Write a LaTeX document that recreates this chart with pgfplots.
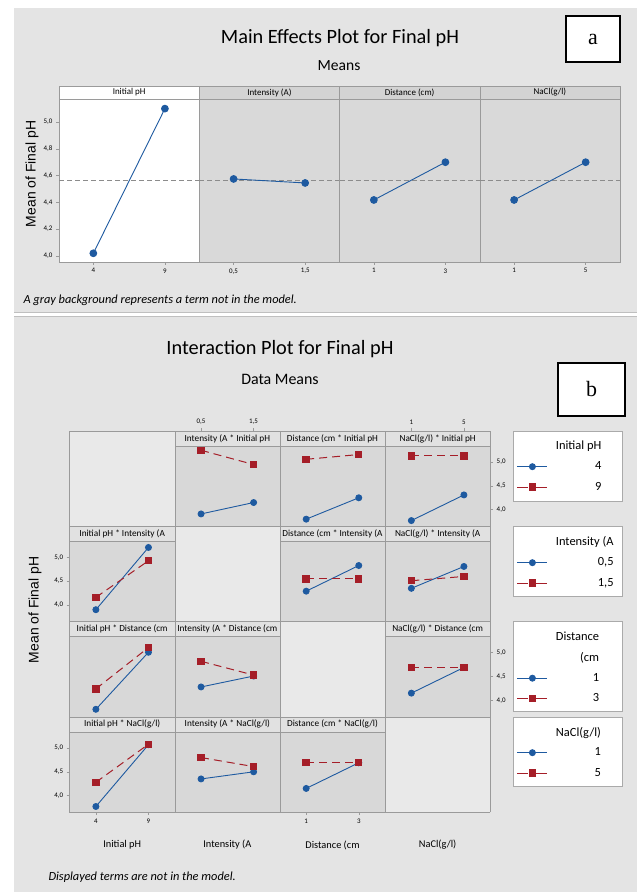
\documentclass[border=0pt]{standalone}
\usepackage{fontspec}
\setmainfont{Carlito}
\newfontfamily\lsans{Liberation Sans}
\newfontfamily\lserif{Liberation Serif}
\usepackage{pgfplots}
\pgfplotsset{compat=1.18}
\definecolor{bgc}{HTML}{E4E4E4}
\definecolor{megray}{HTML}{D9D9D9}
\definecolor{mestrip}{HTML}{D3D3D3}
\definecolor{framegray}{HTML}{9A9A9A}
\definecolor{cellgray}{HTML}{D8D8D8}
\definecolor{istripc}{HTML}{E1E1E1}
\definecolor{emptyc}{HTML}{E9E9E9}
\definecolor{mblue}{HTML}{1E5AA0}
\definecolor{mred}{HTML}{A51E28}
\definecolor{meanline}{HTML}{8C8C8C}
\definecolor{legframe}{HTML}{AAAAAA}
\newcommand\fs[1]{\fontsize{#1}{#1}\selectfont}
\newcommand\mstrip[2]{\draw[draw=framegray, fill=#2] (axis description cs:0,1) rectangle (axis description cs:1,1.0798);
  \node[font=\fs{9}] at (axis description cs:0.5,1.0399) {#1};}
\newcommand\istrip[1]{\draw[draw=framegray, fill=istripc] (axis description cs:0,1) rectangle (axis description cs:1,1.1868);
  \node[font=\fs{9.3}] at (axis description cs:0.5,1.0934) {#1};}
\pgfplotsset{
  base/.style={scale only axis, clip=false, tick align=outside, major tick length=3bp,
    axis line style={framegray}, tick style={framegray, line width=0.5bp},
    ticklabel style={font=\fs{7}}, /pgf/number format/assume math mode=true,
    yticklabel style={/pgf/number format/.cd, use comma, fixed, fixed zerofill, precision=1},
    legend image code/.code={\draw[mark repeat=2,mark phase=2,##1] plot coordinates {(0bp,0bp) (15bp,0bp) (30bp,0bp)};}},
  me/.style={base, width=140.25bp, height=163bp, xmin=-0.48, xmax=1.48, ymin=3.955, ymax=5.172,
    xtick={0,1}, ytick=\empty, xtick pos=left, xticklabel pos=left, axis background/.style={fill=megray}},
  ia/.style={base, width=105.15bp, height=80.3bp, xmin=-0.5, xmax=1.5, ymin=3.65, ymax=5.34,
    xtick=\empty, ytick=\empty, axis background/.style={fill=cellgray}},
  topx/.style={xtick={0,1}, xtick pos=right, xticklabel pos=right, x tick style={yshift=15bp}, xticklabel style={yshift=15bp}},
  botx/.style={xtick={0,1}, xtick pos=left, xticklabel pos=left},
  lefty/.style={ytick={4,4.5,5}, ytick pos=left, yticklabel pos=left},
  righty/.style={ytick={4,4.5,5}, ytick pos=right, yticklabel pos=right},
  mb/.style={mblue, line width=0.9bp, mark=*, mark size=3.4bp},
  mean/.style={meanline, line width=0.8bp, dash pattern=on 5bp off 3bp},
  bl/.style={mblue, line width=0.9bp, mark=*, mark size=3bp, mark options={solid}},
  rd/.style={mred, line width=1bp, dash pattern=on 8bp off 5bp, mark=square*, mark size=3.2bp, mark options={solid},
    legend image post style={dash pattern=on 11bp off 8bp}},
  leg/.style 2 args={legend style={at={(axis description cs:#1,#2)}, anchor=north west, draw=none, fill=none,
    inner sep=0pt, column sep=8bp, nodes={inner sep=0pt, minimum height=20.5bp, font=\fs{12.5}}}, legend cell align=right},
}
\begin{document}
\begin{tikzpicture}[x=1bp,y=1bp]
% backgrounds
\fill[white] (0,0) rectangle (637,892);
\fill[bgc] (14,580) rectangle (637,884);
\draw[gray!50] (14,580) -- (637,580);
\fill[bgc] (14,0) rectangle (637,576);
\draw[gray!50] (14,576) -- (637,576);
% titles panel a
\node[font=\fs{20.4}] at (340,854) {Main Effects Plot for Final pH};
\node[font=\fs{15.6}] at (339,826) {Means};
\draw[line width=1.2bp, fill=white] (566,830) rectangle (620,876);
\node[font=\lserif\fs{22}] at (593,853) {a};
\node[font=\lsans\fs{14}, rotate=90] at (32,718) {Mean of Final pH};
\node[font=\itshape\fs{12.4}, anchor=west] at (20,592) {A gray background represents a term not in the model.};
% main effects
\begin{axis}[me, at={(59bp,630bp)}, anchor=south west, axis background/.style={fill=white},
  ytick={4,4.2,4.4,4.6,4.8,5}, ytick pos=left, yticklabel pos=left, xticklabels={4,9}]
\addplot[mean] coordinates {(-0.48,4.565) (1.48,4.565)};
\addplot[mb] coordinates {(0,4.02) (1,5.10)};
\mstrip{Initial pH}{white}
\end{axis}
\begin{axis}[me, at={(199.25bp,630bp)}, anchor=south west, xticklabels={{0,5},{1,5}}]
\addplot[mean] coordinates {(-0.48,4.565) (1.48,4.565)};
\addplot[mb] coordinates {(0,4.575) (1,4.545)};
\mstrip{Intensity (A)}{mestrip}
\end{axis}
\begin{axis}[me, at={(339.5bp,630bp)}, anchor=south west, xticklabels={1,3}]
\addplot[mean] coordinates {(-0.48,4.565) (1.48,4.565)};
\addplot[mb] coordinates {(0,4.418) (1,4.70)};
\mstrip{Distance (cm)}{mestrip}
\end{axis}
\begin{axis}[me, at={(479.75bp,630bp)}, anchor=south west, xticklabels={1,5}]
\addplot[mean] coordinates {(-0.48,4.565) (1.48,4.565)};
\addplot[mb] coordinates {(0,4.418) (1,4.70)};
\mstrip{NaCl(g/l)}{mestrip}
\end{axis}
% panel b titles
\node[font=\fs{20.4}] at (280,543) {Interaction Plot for Final pH};
\node[font=\fs{16}] at (280,513) {Data Means};
\draw[line width=1.2bp, fill=white] (558,476) rectangle (625,529);
\node[font=\lserif\fs{22}] at (591.5,503) {b};
\node[font=\lsans\fs{14}, rotate=90] at (35,282) {Mean of Final pH};
\node[font=\itshape\fs{12.4}, anchor=west] at (45,15) {Displayed terms are not in the model.};
\node[font=\fs{10.4}] at (122.2,47) {Initial pH};
\node[font=\fs{10.4}] at (227.3,47) {Intensity (A};
\node[font=\fs{10.4}] at (332.5,47) {Distance (cm};
\node[font=\fs{10.4}] at (437.6,47) {NaCl(g/l)};
% grid
\fill[emptyc] (69.6,79.8) rectangle (490.2,461);
\foreach \x in {69.6,174.75,279.9,385.05,490.2} \draw[framegray] (\x,79.8) -- (\x,461);
\foreach \y in {461,365.7,270.4,175.1,79.8} \draw[framegray] (69.6,\y) -- (490.2,\y);
% legend boxes
\foreach \a/\b in {461/390.3, 365.7/296, 270.4/181, 175.1/106}
  \draw[legframe, fill=white] (513.4,\b) rectangle (622.5,\a);
% Row 1: traces Initial pH
\begin{axis}[ia, topx, at={(174.75bp,365.7bp)}, anchor=south west, xticklabels={{0,5},{1,5}}]
\addplot[bl] coordinates {(0,3.91) (1,4.15)};
\addplot[rd] coordinates {(0,5.25) (1,4.95)};
\istrip{Intensity (A * Initial pH}
\end{axis}
\begin{axis}[ia, at={(279.9bp,365.7bp)}, anchor=south west]
\addplot[bl] coordinates {(0,3.80) (1,4.25)};
\addplot[rd] coordinates {(0,5.06) (1,5.16)};
\istrip{Distance (cm * Initial pH}
\end{axis}
\begin{axis}[ia, topx, righty, at={(385.05bp,365.7bp)}, anchor=south west, xticklabels={1,5}, leg={1.252}{1.1276}]
\addlegendimage{empty legend}\addlegendentry{Initial pH}
\addplot[bl] coordinates {(0,3.77) (1,4.31)};\addlegendentry{4}
\addplot[rd] coordinates {(0,5.13) (1,5.13)};\addlegendentry{9}
\istrip{NaCl(g/l) * Initial pH}
\end{axis}
% Row 2: traces Intensity
\begin{axis}[ia, lefty, at={(69.6bp,270.4bp)}, anchor=south west]
\addplot[bl] coordinates {(0,3.90) (1,5.21)};
\addplot[rd] coordinates {(0,4.16) (1,4.93)};
\istrip{Initial pH * Intensity (A}
\end{axis}
\begin{axis}[ia, at={(279.9bp,270.4bp)}, anchor=south west]
\addplot[bl] coordinates {(0,4.29) (1,4.83)};
\addplot[rd] coordinates {(0,4.55) (1,4.55)};
\istrip{Distance (cm * Intensity (A}
\end{axis}
\begin{axis}[ia, at={(385.05bp,270.4bp)}, anchor=south west, leg={1.252}{1.119}]
\addlegendimage{empty legend}\addlegendentry{Intensity (A}
\addplot[bl] coordinates {(0,4.35) (1,4.81)};\addlegendentry{0,5}
\addplot[rd] coordinates {(0,4.51) (1,4.60)};\addlegendentry{1,5}
\istrip{NaCl(g/l) * Intensity (A}
\end{axis}
% Row 3: traces Distance
\begin{axis}[ia, at={(69.6bp,175.1bp)}, anchor=south west]
\addplot[bl] coordinates {(0,3.81) (1,5.01)};
\addplot[rd] coordinates {(0,4.24) (1,5.11)};
\istrip{Initial pH * Distance (cm}
\end{axis}
\begin{axis}[ia, at={(174.75bp,175.1bp)}, anchor=south west]
\addplot[bl] coordinates {(0,4.28) (1,4.51)};
\addplot[rd] coordinates {(0,4.82) (1,4.53)};
\istrip{Intensity (A * Distance (cm}
\end{axis}
\begin{axis}[ia, righty, at={(385.05bp,175.1bp)}, anchor=south west, leg={1.252}{1.1227}]
\addlegendimage{empty legend}\addlegendentry{Distance}
\addlegendimage{empty legend}\addlegendentry{(cm}
\addplot[bl] coordinates {(0,4.15) (1,4.69)};\addlegendentry{1}
\addplot[rd] coordinates {(0,4.69) (1,4.69)};\addlegendentry{3}
\istrip{NaCl(g/l) * Distance (cm}
\end{axis}
% Row 4: traces NaCl
\begin{axis}[ia, botx, lefty, at={(69.6bp,79.8bp)}, anchor=south west, xticklabels={4,9}]
\addplot[bl] coordinates {(0,3.77) (1,5.07)};
\addplot[rd] coordinates {(0,4.28) (1,5.08)};
\istrip{Initial pH * NaCl(g/l)}
\end{axis}
\begin{axis}[ia, at={(174.75bp,79.8bp)}, anchor=south west]
\addplot[bl] coordinates {(0,4.35) (1,4.50)};
\addplot[rd] coordinates {(0,4.80) (1,4.61)};
\istrip{Intensity (A * NaCl(g/l)}
\end{axis}
\begin{axis}[ia, botx, at={(279.9bp,79.8bp)}, anchor=south west, xticklabels={1,3}, leg={2.252}{1.1264}]
\addlegendimage{empty legend}\addlegendentry{NaCl(g/l)}
\addplot[bl] coordinates {(0,4.15) (1,4.69)};\addlegendentry{1}
\addplot[rd] coordinates {(0,4.69) (1,4.69)};\addlegendentry{5}
\istrip{Distance (cm * NaCl(g/l)}
\end{axis}
\end{tikzpicture}
\end{document}
